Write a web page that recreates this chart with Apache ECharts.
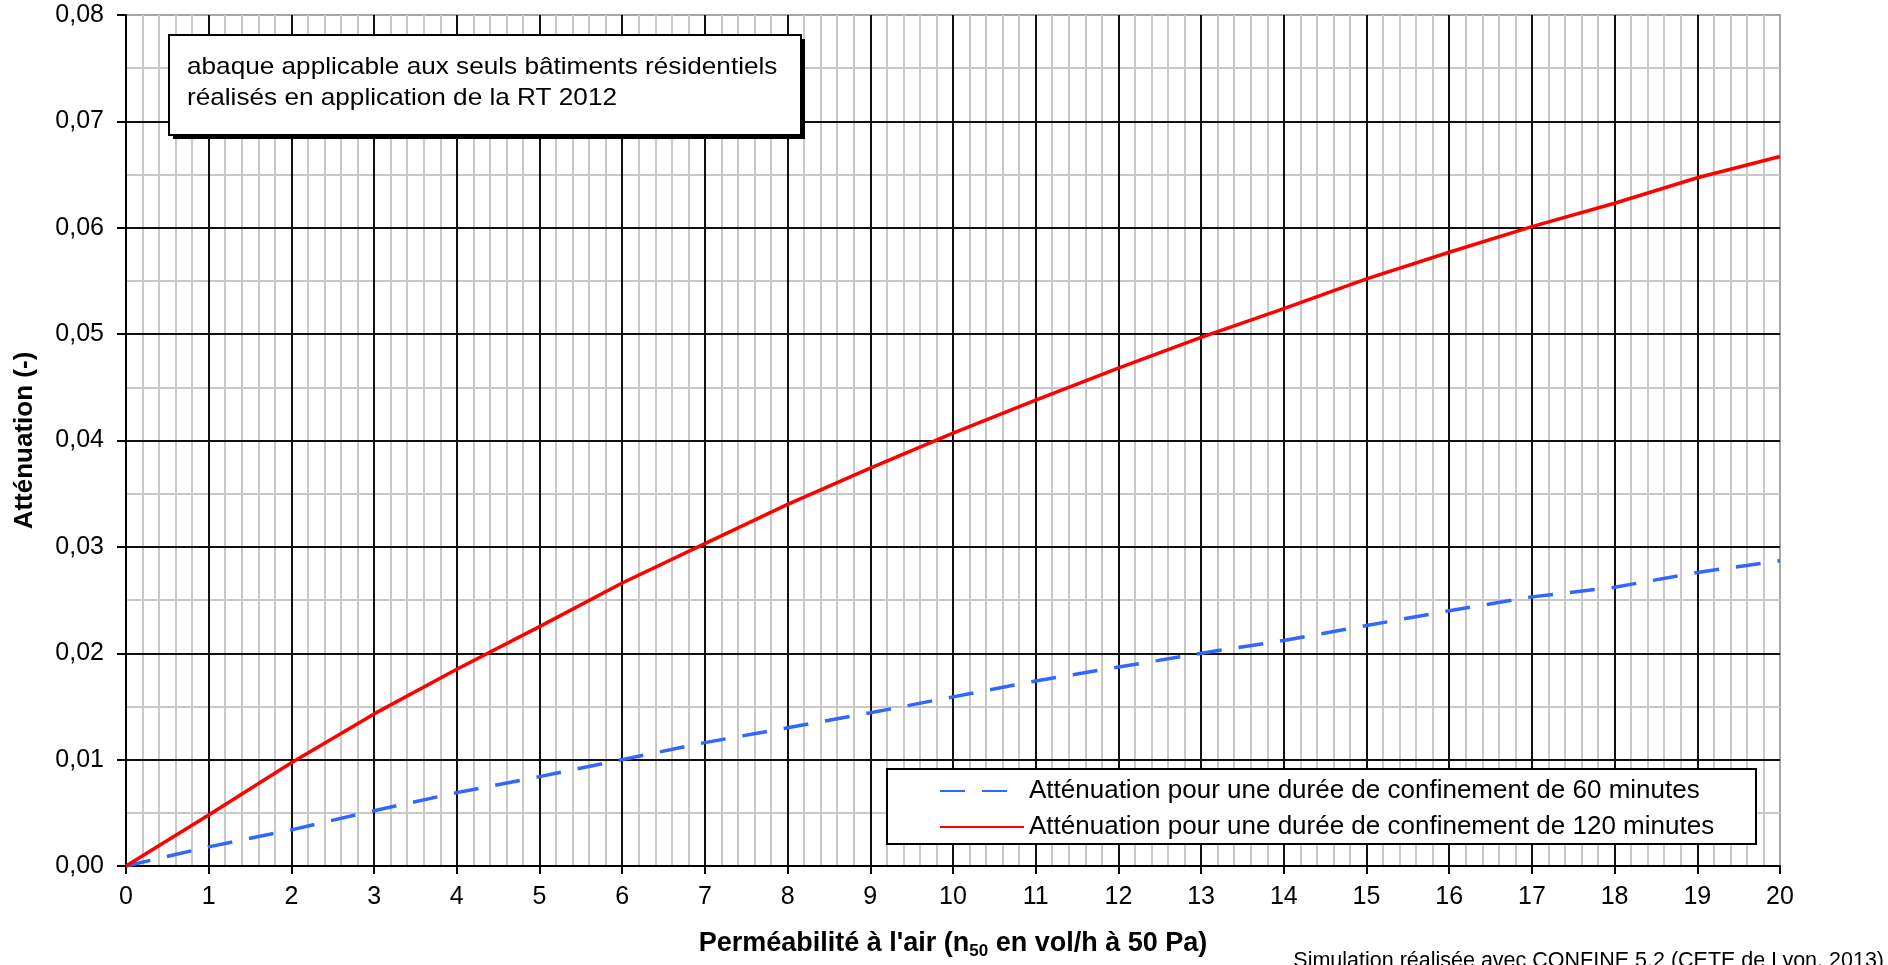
<!DOCTYPE html>
<html>
<head>
<meta charset="utf-8">
<title>Atténuation - perméabilité à l'air</title>
<script src="https://cdn.jsdelivr.net/npm/echarts@6/dist/echarts.min.js"></script>
<style>
  html, body { margin: 0; padding: 0; background: #fff; }
  #chart { width: 1888px; height: 965px; }
</style>
</head>
<body>
<div id="chart"></div>
<script>
// perméabilité n50 (vol/h)
const permeabilite = [0, 1, 2, 3, 4, 5, 6, 7, 8, 9, 10, 11, 12, 13, 14, 15, 16, 17, 18, 19, 20]
// atténuation, confinement 60 min (pointillés bleus)
const att60 = [0, 0.0018, 0.0034, 0.0052, 0.0069, 0.0084, 0.0100, 0.0116, 0.0130, 0.0144, 0.0159,
  0.0174, 0.0187, 0.0200, 0.0212, 0.0226, 0.0240, 0.0253, 0.0262, 0.0276, 0.0287]
// atténuation, confinement 120 min (trait rouge)
const att120 = [0, 0.0048, 0.0097, 0.0143, 0.0185, 0.0225, 0.0266, 0.0303, 0.0340, 0.0374, 0.0407,
  0.0438, 0.0468, 0.0497, 0.0524, 0.0552, 0.0577, 0.0601, 0.0623, 0.0647, 0.0667]

const nom60 = 'Atténuation pour une durée de confinement de 60 minutes'
const nom120 = 'Atténuation pour une durée de confinement de 120 minutes'
const police = "'Liberation Sans', Arial, sans-serif"

const chart = echarts.init(document.getElementById('chart'))

// axes secondaires invisibles : seulement le quadrillage gris fin
const grilleFine = (interval, max) => ({
  type: 'value', min: 0, max: max, interval: interval, z: 0,
  axisLine: { show: false }, axisTick: { show: false }, axisLabel: { show: false },
  splitLine: { show: true, showMaxLine: false, lineStyle: { color: '#c8c8c8', width: 2 } }
})

const option = {
  backgroundColor: '#fff',
  animation: false,
  textStyle: { fontFamily: police, color: '#000' },
  grid: {
    left: 126, right: 108, top: 15, bottom: 99,
    show: true, borderColor: '#a6a6a6', borderWidth: 2
  },
  legend: {
    orient: 'vertical',
    left: 934, top: 773, z: 6,
    itemWidth: 84, itemHeight: 14, itemGap: 10,
    itemStyle: { opacity: 0 },
    textStyle: { fontSize: 26, fontFamily: police, color: '#000', lineHeight: 25 },
    data: [nom60, nom120]
  },
  xAxis: [{
    type: 'value', min: 0, max: 20, interval: 1, z: 2,
    name: '{b|Perméabilité à l\'air (n}{s|50}{b| en vol/h à 50 Pa)}',
    nameLocation: 'middle', nameGap: 62,
    nameTextStyle: {
      rich: {
        b: { fontSize: 27, fontWeight: 'bold', fontFamily: police, color: '#000', lineHeight: 32 },
        s: { fontSize: 17, fontWeight: 'bold', fontFamily: police, color: '#000', lineHeight: 14, verticalAlign: 'bottom' }
      }
    },
    axisLine: { lineStyle: { color: '#000', width: 2 } },
    axisTick: { show: true, length: 8, lineStyle: { color: '#000', width: 2 } },
    axisLabel: { fontSize: 25, color: '#000', margin: 19, fontFamily: police },
    splitLine: { show: true, showMaxLine: false, lineStyle: { color: '#111', width: 2 } }
  }, grilleFine(0.2, 20)],
  yAxis: [{
    type: 'value', min: 0, max: 0.08, interval: 0.01, z: 2,
    name: 'Atténuation (-)',
    nameLocation: 'middle', nameGap: 88, nameRotate: 90,
    nameTextStyle: { fontSize: 26, fontWeight: 'bold', color: '#000', fontFamily: police },
    axisLine: { show: true, lineStyle: { color: '#000', width: 2 } },
    axisTick: { show: true, length: 9, lineStyle: { color: '#000', width: 2 } },
    axisLabel: {
      fontSize: 25, color: '#000', margin: 22, fontFamily: police,
      formatter: v => v.toFixed(2).replace('.', ',')
    },
    splitLine: { show: true, showMaxLine: false, lineStyle: { color: '#111', width: 2 } }
  }, grilleFine(0.005, 0.08)],
  series: [
    {
      name: nom60,
      type: 'line',
      data: permeabilite.map((x, i) => [x, att60[i]]),
      symbol: 'none', showSymbol: false,
      color: '#3366ff',
      lineStyle: { color: '#3366ff', width: 3.5, type: [25, 17] },
      z: 3
    },
    {
      name: nom120,
      type: 'line',
      data: permeabilite.map((x, i) => [x, att120[i]]),
      symbol: 'none', showSymbol: false,
      color: '#ff0000',
      lineStyle: { color: '#ff0000', width: 3.5 },
      z: 3
    }
  ],
  graphic: [
    // cadre de la légende (au-dessus du quadrillage)
    {
      type: 'rect', left: 886, top: 768, z: 5,
      shape: { width: 869, height: 75 },
      style: { fill: '#fff', stroke: '#000', lineWidth: 2 }
    },
    // encadré "abaque applicable..." avec son ombre
    {
      type: 'rect', left: 173, top: 39, z: 10,
      shape: { width: 632, height: 100 },
      style: { fill: '#000' }
    },
    {
      type: 'rect', left: 168, top: 34, z: 11,
      shape: { width: 632, height: 100 },
      style: { fill: '#fff', stroke: '#000', lineWidth: 2 }
    },
    {
      type: 'text', x: 187, y: 52, z: 12, scaleX: 1.09,
      style: {
        text: 'abaque applicable aux seuls bâtiments résidentiels\nréalisés en application de la RT 2012',
        font: "24px 'Liberation Sans', Arial, sans-serif",
        lineHeight: 31, fill: '#000'
      }
    },
    // mention en bas à droite
    {
      type: 'text', right: 4, top: 950, z: 12,
      style: {
        text: 'Simulation réalisée avec CONFINE 5.2 (CETE de Lyon, 2013)',
        font: "21.5px 'Liberation Sans', Arial, sans-serif",
        fill: '#000'
      }
    }
  ]
}

chart.setOption(option)
</script>
</body>
</html>
